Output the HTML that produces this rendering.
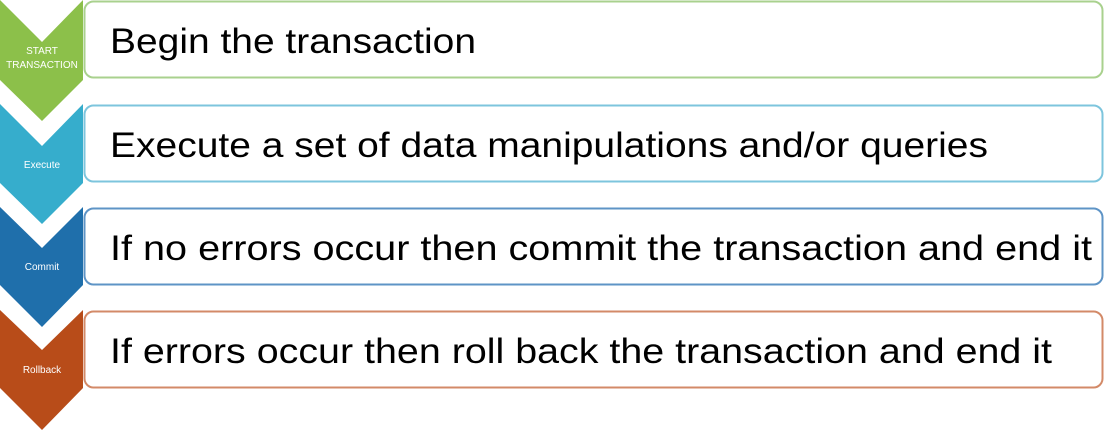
<!DOCTYPE html>
<html><head><style>html,body{margin:0;padding:0;background:#fff;}svg{display:block}</style></head><body>
<svg width="1105" height="430" viewBox="0 0 1105 430" xmlns="http://www.w3.org/2000/svg" font-family="Liberation Sans, sans-serif">
<g>
<rect x="84.5" y="1.5" width="1018" height="76" rx="9" fill="#fff" stroke="#A9D18E" stroke-width="2"/>
<polygon points="0,0 42,42 83,0 83,80 42,121 0,80" fill="#8CC04A"/>
<text x="42" y="54" font-size="10" fill="#fff" text-anchor="middle">START</text>
<text x="42" y="68" font-size="10" fill="#fff" text-anchor="middle">TRANSACTION</text>
<text x="110" y="53" font-size="35" fill="#000" textLength="366" lengthAdjust="spacingAndGlyphs">Begin the transaction</text>
</g>
<g>
<rect x="84.5" y="105.5" width="1018" height="76" rx="9" fill="#fff" stroke="#7DC5DD" stroke-width="2"/>
<polygon points="0,104 42,146 83,104 83,183 42,224 0,183" fill="#36ADCC"/>
<text x="42" y="168" font-size="10" fill="#fff" text-anchor="middle">Execute</text>
<text x="110" y="157" font-size="35" fill="#000" textLength="878" lengthAdjust="spacingAndGlyphs">Execute a set of data manipulations and/or queries</text>
</g>
<g>
<rect x="84.5" y="208.5" width="1018" height="76" rx="9" fill="#fff" stroke="#5E94C6" stroke-width="2"/>
<polygon points="0,207 42,248 83,207 83,285 42,327 0,285" fill="#1F6FAB"/>
<text x="42" y="270" font-size="10" fill="#fff" text-anchor="middle">Commit</text>
<text x="110" y="260" font-size="35" fill="#000" textLength="982" lengthAdjust="spacingAndGlyphs">If no errors occur then commit the transaction and end it</text>
</g>
<g>
<rect x="84.5" y="311.5" width="1018" height="76" rx="9" fill="#fff" stroke="#D38A68" stroke-width="2"/>
<polygon points="0,310 42,350 83,310 83,388 42,430 0,388" fill="#B84C19"/>
<text x="42" y="373" font-size="10" fill="#fff" text-anchor="middle">Rollback</text>
<text x="110" y="363" font-size="35" fill="#000" textLength="942" lengthAdjust="spacingAndGlyphs">If errors occur then roll back the transaction and end it</text>
</g>
</svg>
</body></html>
